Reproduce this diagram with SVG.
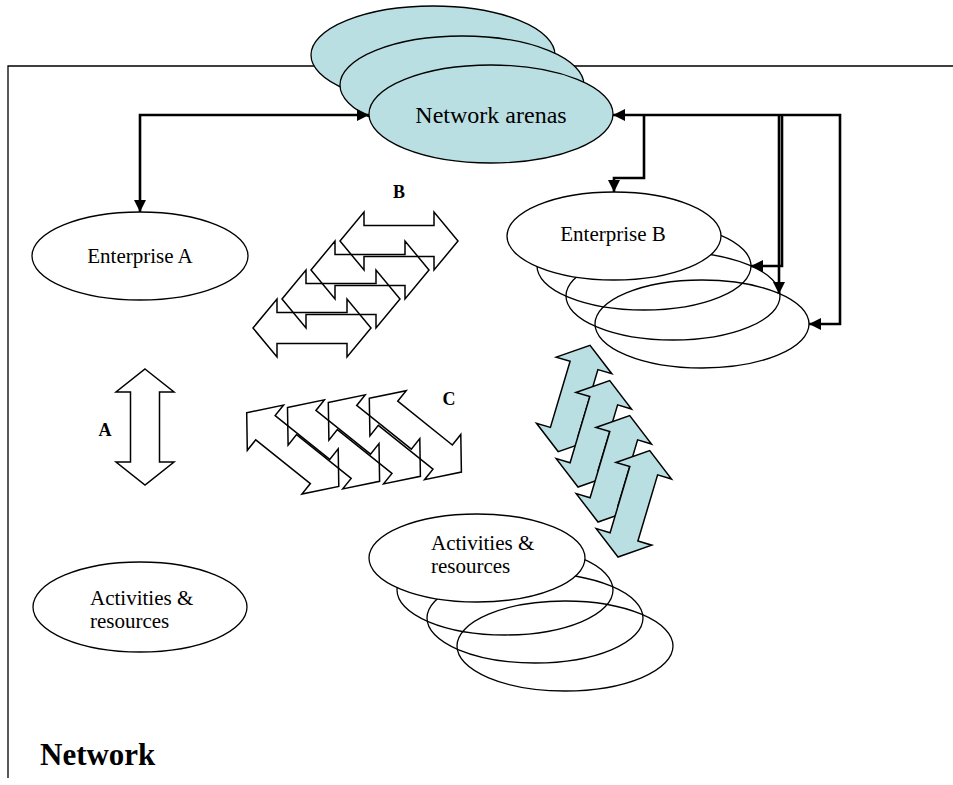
<svg xmlns="http://www.w3.org/2000/svg" width="953" height="785" viewBox="0 0 953 785">
<style>
.frame{fill:none;stroke:#000;stroke-width:1.3}
.arena{fill:#b9dfe3;stroke:#000;stroke-width:1.3}
.node{fill:#fff;stroke:#000;stroke-width:1.3}
.back{fill:none;stroke:#000;stroke-width:1.3}
.conn{fill:none;stroke:#000;stroke-width:2.6}
.outl{fill:none;stroke:#000;stroke-width:1.5;stroke-linejoin:miter}
.blue{fill:#b9dfe3;stroke:#000;stroke-width:1.5}
.wht{fill:#fff;stroke:#000;stroke-width:1.5}
.t{font-family:"Liberation Serif","Times New Roman",serif;font-size:21px;fill:#000}
.ta{font-family:"Liberation Serif","Times New Roman",serif;font-size:24px;fill:#000}
.lbl{font-family:"Liberation Serif","Times New Roman",serif;font-size:18px;font-weight:bold;fill:#000}
.big{font-family:"Liberation Serif","Times New Roman",serif;font-size:31px;font-weight:bold;fill:#000}
</style>
<defs>
<marker id="ah" markerUnits="userSpaceOnUse" markerWidth="12" markerHeight="12" viewBox="0 0 10 10" refX="10" refY="5" orient="auto-start-reverse">
<path d="M0,0 L10,5 L0,10 Z" fill="#000"/>
</marker>
<path id="dbl" d="M0,0 L24,-29 L24,-15.5 L94,-15.5 L94,-29 L118,0 L94,29 L94,15.5 L24,15.5 L24,29 Z"/>
<path id="dblb" d="M0,0 L21,-29 L21,-14.5 L90,-14.5 L90,-29 L111,0 L90,29 L90,14.5 L21,14.5 L21,29 Z"/>
</defs>

<g id="frame">
<path class="frame" d="M953,66 L8,66 L8,778"/>
</g>

<g id="network-arenas">
<ellipse class="arena" cx="433" cy="55" rx="122" ry="49"/>
<ellipse class="arena" cx="462" cy="85" rx="122" ry="49"/>
<ellipse class="arena" cx="491" cy="114" rx="122" ry="49"/>
<text class="ta" x="491" y="123" text-anchor="middle">Network arenas</text>
</g>

<g id="enterprise-a">
<ellipse class="node" cx="140" cy="256" rx="108" ry="44"/>
<text class="t" x="140" y="263" text-anchor="middle">Enterprise A</text>
</g>

<g id="enterprise-b">
<ellipse class="back" cx="702" cy="324" rx="107" ry="44"/>
<ellipse class="back" cx="673" cy="296" rx="107" ry="44"/>
<ellipse class="back" cx="644" cy="266" rx="107" ry="44"/>
<ellipse class="node" cx="614" cy="236" rx="107" ry="44"/>
<text class="t" x="613" y="241" text-anchor="middle">Enterprise B</text>
</g>

<g id="activities-a">
<ellipse class="node" cx="140" cy="607" rx="107" ry="45"/>
<text class="t" x="90" y="605">Activities &amp;</text>
<text class="t" x="90" y="628">resources</text>
</g>

<g id="activities-b">
<ellipse class="back" cx="565" cy="646" rx="108" ry="45"/>
<ellipse class="back" cx="535" cy="618" rx="108" ry="45"/>
<ellipse class="back" cx="505" cy="590" rx="108" ry="45"/>
<ellipse class="node" cx="477" cy="558" rx="108" ry="44"/>
<text class="t" x="431" y="550">Activities &amp;</text>
<text class="t" x="431" y="573">resources</text>
</g>

<g id="connectors">
<path class="conn" d="M369,115 L140,115 L140,212" marker-start="url(#ah)" marker-end="url(#ah)"/>
<path class="conn" d="M613,115 L840,115 L840,324 L809,324" marker-start="url(#ah)" marker-end="url(#ah)"/>
<path class="conn" d="M644,115 L644,178 L614,178 L614,192" marker-end="url(#ah)"/>
<path class="conn" d="M782,115 L782,266 L751,266" marker-end="url(#ah)"/>
<path class="conn" d="M779,115 L779,294" marker-end="url(#ah)"/>
</g>

<g id="arrows-a">
<path class="wht" d="M145,369 L174,392 L159.5,392 L159.5,462 L174,462 L145,485 L116,462 L130.5,462 L130.5,392 L116,392 Z"/>
<text class="lbl" x="105" y="436" text-anchor="middle">A</text>
</g>

<g id="arrows-b">
<use href="#dbl" class="outl" transform="translate(340,241)"/>
<use href="#dbl" class="outl" transform="translate(311,270)"/>
<use href="#dbl" class="outl" transform="translate(282,299)"/>
<use href="#dbl" class="outl" transform="translate(253,328)"/>
<text class="lbl" x="399" y="198" text-anchor="middle">B</text>
</g>

<g id="arrows-c">
<use href="#dbl" class="outl" transform="translate(246.7,412.7) rotate(38.7)"/>
<use href="#dbl" class="outl" transform="translate(287.5,407.5) rotate(38.7)"/>
<use href="#dbl" class="outl" transform="translate(328.3,402.5) rotate(38.7)"/>
<use href="#dbl" class="outl" transform="translate(369.3,398.3) rotate(38.7)"/>
<text class="lbl" x="449" y="405" text-anchor="middle">C</text>
</g>

<g id="arrows-blue">
<use href="#dblb" class="blue" transform="translate(558.3,451.7) rotate(-73.4)"/>
<use href="#dblb" class="blue" transform="translate(578,487) rotate(-73.4)"/>
<use href="#dblb" class="blue" transform="translate(598,522) rotate(-73.4)"/>
<use href="#dblb" class="blue" transform="translate(618,557) rotate(-73.4)"/>
</g>

<g id="label-network">
<text class="big" x="40" y="765">Network</text>
</g>
</svg>
